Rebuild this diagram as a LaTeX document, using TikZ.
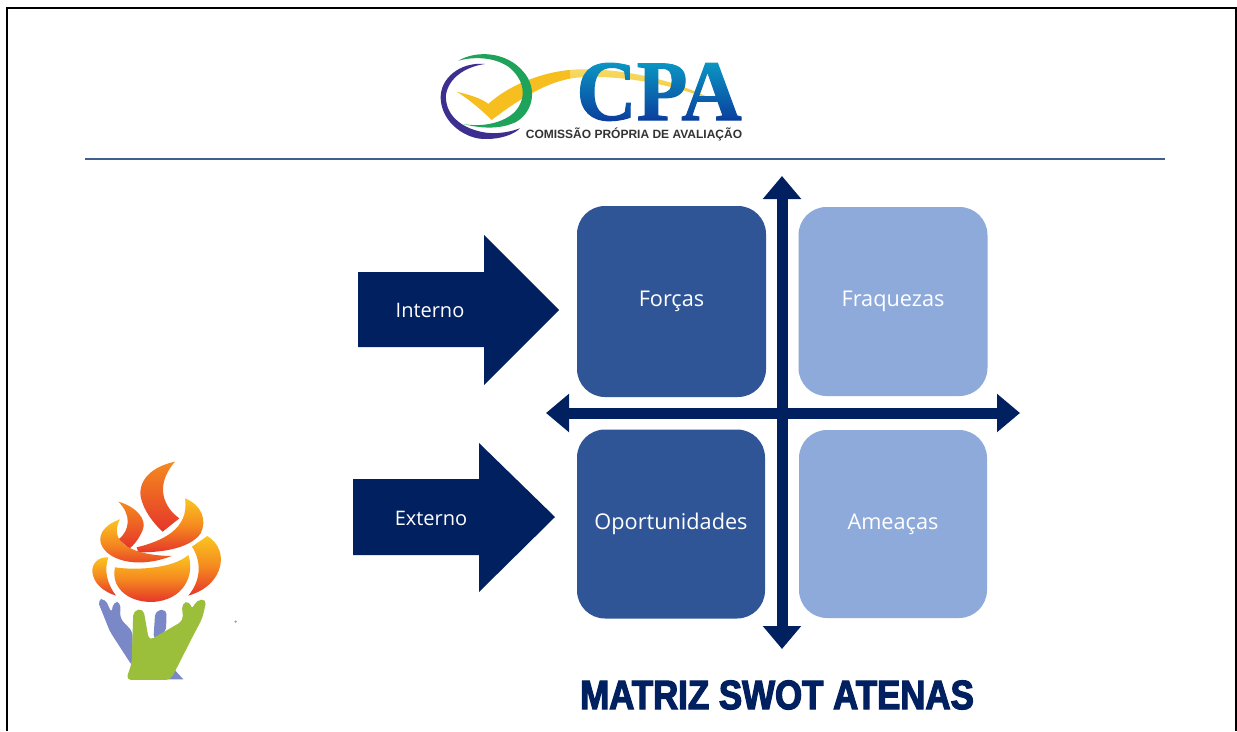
\documentclass[tikz,border=0pt]{standalone}
\usepackage{fontspec}
\usetikzlibrary{arrows.meta}
\setmainfont{Open Sans}
\newfontfamily\serifb[FakeStretch=0.97,FakeBold=1.2]{Liberation Serif Bold}
\newfontfamily\capfont{Liberation Sans Bold}
\newfontfamily\titlefont[FakeBold=3,FakeStretch=0.85]{Liberation Sans Bold}
\definecolor{navy}{HTML}{002060}
\definecolor{midblue}{HTML}{2F5597}
\definecolor{lightblue}{HTML}{8EAADB}
\definecolor{rulecol}{HTML}{3F5F8F}
\definecolor{ringgreen}{HTML}{1FA35A}
\definecolor{ringpurple}{HTML}{3C2F8F}
\definecolor{checkyellow}{HTML}{F6BE1E}
\definecolor{cpablue}{HTML}{0A3FA0}
\definecolor{flameY}{HTML}{FBC520}
\definecolor{flameO}{HTML}{F58A1F}
\definecolor{flameR}{HTML}{E5352A}
\definecolor{handP}{HTML}{7B88C8}
\definecolor{handG}{HTML}{9BBF3B}
\tikzset{
  quad/.style={rounded corners=28pt,minimum width=189pt,minimum height=189pt,inner sep=0pt,text=white,font=\fontsize{21.7}{26}\selectfont},
  dark/.style={quad,fill=midblue},
  pale/.style={quad,fill=lightblue},
  bigarrow/.style={fill=navy},
  arrowlabel/.style={text=white,font=\fontsize{20}{24}\selectfont,inner sep=0pt},
  axis/.style={draw=navy,line width=11pt,{Triangle[width=37pt,length=23pt]}-{Triangle[width=37pt,length=23pt]}},
  flame/.style={top color=flameY,bottom color=flameR,middle color=flameO,draw=none},
  flameb/.style={top color=flameO,bottom color=flameR,draw=none},
  zoomA/.style={shift={(420,40)},x=0.3333pt,y=-0.3333pt},
  zoomB/.style={shift={(70,450)},x=0.3333pt,y=-0.3333pt}
}
\begin{document}
\begin{tikzpicture}[x=1pt,y=-1pt]
\useasboundingbox (0,0) rectangle (1237,731);
\fill[white] (0,0) rectangle (1237,731);
% page frame
\draw[black,line width=2.2pt] (7,731) -- (7,8) -- (1236,8) -- (1236,731);
% header rule
\draw[rulecol,line width=1.8pt] (85,159) -- (1165,159);
% logo
\begin{scope}[zoomA]
  \fill[checkyellow] (110,155) .. controls (150,165) and (185,175) .. (205,192) .. controls (260,140) and (370,90) .. (480,88) .. controls (620,85) and (780,125) .. (890,185) .. controls (750,130) and (600,105) .. (480,112) .. controls (400,118) and (320,160) .. (215,240) .. controls (190,215) and (150,180) .. (110,155) -- cycle;
  \fill[ringgreen] (115,62) .. controls (170,30) and (260,35) .. (310,95) .. controls (350,140) and (345,210) .. (290,245) .. controls (240,270) and (180,265) .. (130,252) .. controls (185,262) and (250,250) .. (285,215) .. controls (325,170) and (310,115) .. (265,80) .. controls (220,50) and (160,50) .. (115,62) -- cycle;
  \fill[ringpurple] (195,72) .. controls (120,65) and (60,115) .. (62,175) .. controls (65,250) and (140,300) .. (200,297) .. controls (240,297) and (280,285) .. (300,265) .. controls (260,280) and (210,285) .. (170,272) .. controls (110,255) and (75,215) .. (78,165) .. controls (85,115) and (135,80) .. (195,72) -- cycle;
\end{scope}
\node[text=cpablue,inner sep=0pt,anchor=base,font=\serifb\fontsize{86}{86}\selectfont] (cpa) at (659,120) {CPA};
\foreach \i in {0,...,27}{
  \pgfmathsetmacro{\gv}{int(115-4*\i)}
  \pgfmathsetmacro{\bv}{int(90-3.3*\i)}
  \definecolor{bandcol}{RGB}{0,\gv,\bv}
  \fill[bandcol,blend mode=screen] (570,{62+2*\i}) rectangle (750,{64.1+2*\i});
}
\node[text=black!80,inner sep=0pt,font=\capfont\fontsize{12}{14}\selectfont] (cap) at (634,134.5) {COMISSÃO PRÓPRIA DE AVALIAÇÃO};
% input arrows
\fill[bigarrow] (358,272) -- (484,272) -- (484,235) -- (559,310) -- (484,385) -- (484,347) -- (358,347) -- cycle;
\node[arrowlabel] (interno) at (430,310) {Interno};
\fill[bigarrow] (353,479) -- (479,479) -- (479,443) -- (555,517) -- (479,592) -- (479,555) -- (353,555) -- cycle;
\node[arrowlabel] (externo) at (431,518) {Externo};
% quadrants
\node[dark,minimum height=191pt] (forcas) at (671.5,301.5) {\raisebox{-1.5pt}{Forças}};
\node[pale] (fraquezas) at (893,301.5) {\raisebox{-1.5pt}{Fraquezas}};
\node[dark,minimum width=188pt] (oport) at (671,524) {\raisebox{-1.5pt}{Oportunidades}};
\node[pale,minimum width=188pt,minimum height=188pt] (ameacas) at (893,524) {\raisebox{-1.5pt}{Ameaças}};
% axes
\coordinate (vt) at (782,176);
\coordinate (vb) at (782,649);
\coordinate (hl) at (546,413);
\coordinate (hr) at (1020,413);
\draw[axis] (hl) -- (hr);
\draw[axis] (vb) -- (vt);
% title
\node[text=navy,inner sep=0pt,font=\titlefont\fontsize{41}{44}\selectfont] (title) at (777,695) {MATRIZ SWOT ATENAS};
% torch
\begin{scope}[zoomB]
  \fill[handP,rounded corners=5pt] (82,450) -- (105,445) -- (125,490) -- (130,455) -- (152,456) -- (150,505) -- (188,545) -- (188,650) -- (120,545) -- cycle;
  \fill[handP,rounded corners=5pt] (250,570) -- (256,482) -- (290,478) -- (288,545) -- cycle;
  \fill[handP] (305,650) -- (340,688) -- (285,688) -- cycle;
  \fill[handG,rounded corners=5pt] (168,690) -- (185,640) -- (190,482) -- (220,476) -- (237,572) -- (340,512) -- (335,460) -- (360,453) -- (365,480) -- (380,450) -- (410,448) -- (397,505) -- (368,560) -- (302,690) -- cycle;
  \shade[flameb] (315,35) .. controls (245,50) and (205,90) .. (212,140) .. controls (220,180) and (250,220) .. (278,245) -- (328,205) .. controls (285,175) and (250,110) .. (315,35) -- cycle;
  \shade[flameb] (145,155) .. controls (200,170) and (232,210) .. (218,240) .. controls (208,265) and (192,285) .. (178,296) -- (146,268) .. controls (180,240) and (185,195) .. (145,155) -- cycle;
  \shade[flame] (345,145) .. controls (395,165) and (412,210) .. (392,250) .. controls (365,290) and (290,308) .. (205,307) -- (200,292) .. controls (270,275) and (360,240) .. (345,145) -- cycle;
  \shade[flame] (150,208) .. controls (100,225) and (78,260) .. (98,292) .. controls (125,335) and (210,355) .. (305,318) .. controls (230,318) and (105,295) .. (150,208) -- cycle;
  \shade[flame] (135,352) .. controls (200,362) and (310,355) .. (355,315) .. controls (375,370) and (345,452) .. (245,456) .. controls (170,456) and (122,410) .. (135,352) -- cycle;
  \shade[flame] (115,322) .. controls (85,320) and (66,340) .. (67,365) .. controls (70,400) and (100,425) .. (138,437) .. controls (110,400) and (102,360) .. (115,322) -- cycle;
  \shade[flame] (412,258) .. controls (448,280) and (462,320) .. (447,360) .. controls (432,400) and (397,425) .. (355,437) .. controls (390,395) and (398,340) .. (366,290) -- cycle;
  \fill[black!35] (497,515) circle (4);
\end{scope}
\end{tikzpicture}
\end{document}
